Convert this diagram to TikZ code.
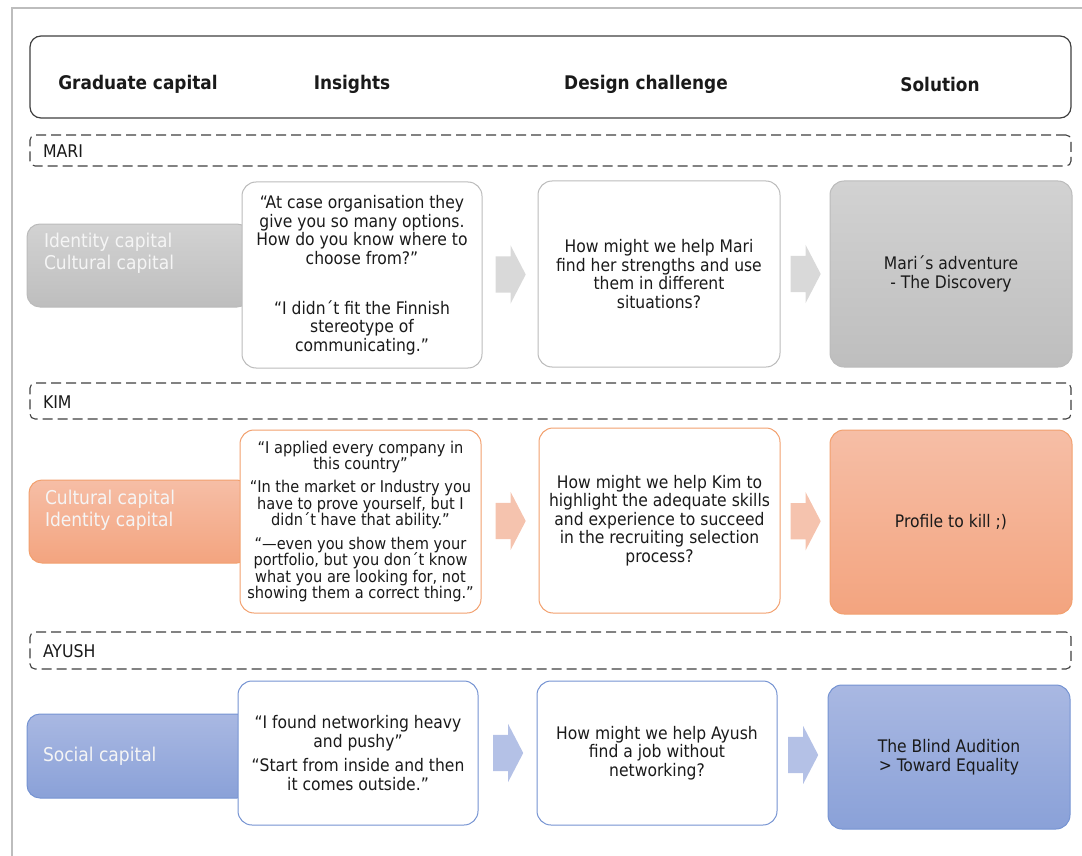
\documentclass[tikz,border=0pt]{standalone}
\usepackage{fontspec}
\setmainfont{DejaVu Sans Condensed}
\usetikzlibrary{shapes.arrows,calc}

\definecolor{ink}{HTML}{1A1A1A}
\definecolor{framegray}{HTML}{BDBDBD}
\definecolor{hdrline}{HTML}{3F3F3F}
% grey row (Mari)
\definecolor{gline}{HTML}{BBBBBB}
\definecolor{gtop}{HTML}{D2D2D2}
\definecolor{gbot}{HTML}{BEBEBE}
\definecolor{garrow}{HTML}{D9D9D9}
% orange row (Kim)
\definecolor{oline}{HTML}{F2A06E}
\definecolor{otop}{HTML}{F6BEA6}
\definecolor{obot}{HTML}{F3A47F}
\definecolor{oarrow}{HTML}{F5C3AE}
% blue row (Ayush)
\definecolor{bline}{HTML}{7593D2}
\definecolor{btop}{HTML}{A9B8E2}
\definecolor{bbot}{HTML}{8AA1D8}
\definecolor{barrow}{HTML}{B4C1E6}

\begin{document}
\begin{tikzpicture}[x=1pt,y=-1pt,
  every node/.style={inner sep=0pt, outer sep=0pt},
  hdrtext/.style={font=\fontsize{18.8}{22}\selectfont\bfseries, text=ink},
  headbox/.style={draw=hdrline, line width=1.2pt, rounded corners=11pt},
  rowbar/.style={draw=hdrline, line width=1.1pt, dash pattern=on 10pt off 5pt, rounded corners=5pt},
  rowname/.style={font=\fontsize{17.5}{20}\selectfont, text=ink, anchor=west},
  capbox/.style 2 args={draw=#1, line width=1pt, rounded corners=13pt, top color=#2top, bottom color=#2bot},
  captext/.style={font=\fontsize{19}{22}\selectfont, text=white!96!black, align=left, anchor=west},
  card/.style={draw=#1, line width=1pt, fill=white, rounded corners=14pt, align=center, text=ink},
  solbox/.style 2 args={draw=#1, line width=1pt, rounded corners=14pt, top color=#2top, bottom color=#2bot, align=center, text=ink},
  body/.style={font=\fontsize{17.3}{18.5}\selectfont},
  bodysmall/.style={font=\fontsize{16.2}{16.6}\selectfont},
  blockarrow/.style={single arrow, draw=none, fill=#1, minimum height=30pt, inner ysep=18pt, inner xsep=0pt, single arrow head extend=11pt, single arrow tip angle=125, xshift=-4pt}
]
\useasboundingbox (0,0) rectangle (1082,856);

% outer frame (only top and left edges fall inside the page)
\draw[framegray, line width=1.5pt] (12,900) -- (12,8) -- (1100,8);

% header row
\node[headbox, minimum width=1041pt, minimum height=82pt] (head) at (550.5,77) {};
\node[hdrtext] (h1) at (138,84) {Graduate capital};
\node[hdrtext] (h2) at (352,84) {Insights};
\node[hdrtext] (h3) at (646,84) {Design challenge};
\node[hdrtext] (h4) at (940,84) {Solution};

% ---------------- MARI ----------------
\node[rowbar, minimum width=1041pt, minimum height=31pt] (mbar) at (550.5,150.5) {};
\node[rowname] (mname) at (43,151) {MARI};

\node[capbox={gline}{g}, minimum width=223pt, minimum height=83pt] (mcap) at (138.5,265.5) {};
\node[captext] (mcapt) at (44,253) {Identity capital\\Cultural capital};

\node[card=gline, body, minimum width=240pt, minimum height=186pt] (mins) at (362,275)
  {“At case organisation they\\give you so many options.\\How do you know where to\\choose from?”\\[31.5pt]“I didn´t fit the Finnish\\stereotype of\\communicating.”};
\node[card=gline, body, minimum width=242pt, minimum height=186pt] (mdes) at (659,274)
  {How might we help Mari\\find her strengths and use\\them in different\\situations?};
\node[solbox={gline}{g}, body, minimum width=242pt, minimum height=186pt] (msol) at (951,274)
  {Mari´s adventure\\- The Discovery};

\node[blockarrow=garrow] (ma1) at ($(mins.east)!0.5!(mdes.west)$) {};
\node[blockarrow=garrow] (ma2) at ($(mdes.east)!0.5!(msol.west)$) {};

% ---------------- KIM ----------------
\node[rowbar, minimum width=1041pt, minimum height=36pt] (kbar) at (550.5,401) {};
\node[rowname] (kname) at (43,402) {KIM};

\node[capbox={oline}{o}, minimum width=221pt, minimum height=83pt] (kcap) at (139.5,521.5) {};
\node[captext] (kcapt) at (45,510) {Cultural capital\\Identity capital};

\node[card=oline, bodysmall, minimum width=241pt, minimum height=183pt] (kins) at (360.5,521.5)
  {“I applied every company in\\this country”\\[6.5pt]“In the market or Industry you\\have to prove yourself, but I\\didn´t have that ability.”\\[6.5pt]“—even you show them your\\portfolio, but you don´t know\\what you are looking for, not\\showing them a correct thing.”};
\node[card=oline, body, minimum width=241pt, minimum height=185pt] (kdes) at (659.5,520.5)
  {How might we help Kim to\\highlight the adequate skills\\and experience to succeed\\in the recruiting selection\\process?};
\node[solbox={oline}{o}, body, minimum width=242pt, minimum height=184pt] (ksol) at (951,522)
  {Profile to kill ;)};

\node[blockarrow=oarrow] (ka1) at ($(kins.east)!0.5!(kdes.west)$) {};
\node[blockarrow=oarrow] (ka2) at ($(kdes.east)!0.5!(ksol.west)$) {};

% ---------------- AYUSH ----------------
\node[rowbar, minimum width=1041pt, minimum height=37pt] (abar) at (550.5,650.5) {};
\node[rowname] (aname) at (43,651) {AYUSH};

\node[capbox={bline}{b}, minimum width=223pt, minimum height=84pt] (acap) at (138.5,756) {};
\node[captext] (acapt) at (43,756) {Social capital};

\node[card=bline, body, minimum width=240pt, minimum height=144pt] (ains) at (358,753)
  {“I found networking heavy\\and pushy”\\[6pt]“Start from inside and then\\it comes outside.”};
\node[card=bline, body, minimum width=240pt, minimum height=144pt] (ades) at (657,753)
  {How might we help Ayush\\find a job without\\networking?};
\node[solbox={bline}{b}, body, minimum width=242pt, minimum height=144pt] (asol) at (949,757)
  {The Blind Audition\\> Toward Equality};

\node[blockarrow=barrow] (aa1) at ($(ains.east)!0.5!(ades.west)$) {};
\node[blockarrow=barrow] (aa2) at ($(ades.east)!0.5!(asol.west)$) {};
\end{tikzpicture}
\end{document}
